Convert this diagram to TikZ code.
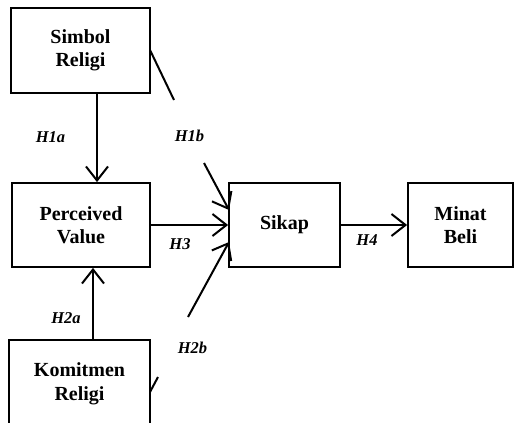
\documentclass[tikz,border=0pt]{standalone}
\usepackage{fontspec}
\setmainfont{Liberation Serif}
\usetikzlibrary{arrows.meta}
\begin{document}
\begin{tikzpicture}[x=1pt,y=-1pt,
  box/.style={draw,line width=1.8pt,inner sep=0pt,align=center,
    font=\fontsize{20}{23.5}\selectfont\bfseries},
  hyp/.style={font=\fontsize{16.5}{18}\selectfont\bfseries\itshape,inner sep=0pt},
  conn/.style={line width=2pt},
  arr/.style={conn,-{Straight Barb[length=14pt,width=22pt,line width=2pt]}}]
\useasboundingbox (0,0) rectangle (515,423);
\node[box,minimum width=139pt,minimum height=85pt] (S) at (80.5,50.5) {\raisebox{-3pt}{\begin{tabular}{@{}c@{}}Simbol\\Religi\end{tabular}}};
\node[box,minimum width=138pt,minimum height=84pt] (P) at (81,225) {Perceived\\Value};
\node[box,minimum width=141pt,minimum height=88pt] (K) at (79.5,384) {\raisebox{4pt}{\begin{tabular}{@{}c@{}}Komitmen\\Religi\end{tabular}}};
\node[box,minimum width=111pt,minimum height=84pt] (Sk) at (284.5,225) {Sikap};
\node[box,minimum width=105pt,minimum height=84pt] (M) at (460.5,225) {Minat\\Beli};
% hypothesis labels
\node[hyp] (h1a) at (50.5,137) {H1a};
\node[hyp] (h1b) at (189.5,136) {H1b};
\node[hyp] (h3) at (180,244) {H3};
\node[hyp] (h2a) at (66,318) {H2a};
\node[hyp] (h2b) at (192.5,348) {H2b};
\node[hyp] (h4) at (367,240) {H4};
% coordinates
\coordinate (s1) at (150,50);
\coordinate (a1) at (174,100);
\coordinate (a2) at (204,163);
\coordinate (t1) at (229,210);
\coordinate (k1) at (150,392);
\coordinate (b1) at (158,377);
\coordinate (b2) at (188,317);
\coordinate (t2) at (229,242);
% connectors
\draw[arr] (S.south -| 97,0) -- (P.north -| 97,0);
\draw[arr] (K.north -| 93,0) -- (P.south -| 93,0);
\draw[arr] (P.east) -- (Sk.west);
\draw[arr] (Sk.east) -- (M.west);
\draw[conn] (s1) -- (a1);
\draw[arr] (a2) -- (t1);
\draw[conn] (k1) -- (b1);
\draw[arr] (b2) -- (t2);
\end{tikzpicture}
\end{document}
